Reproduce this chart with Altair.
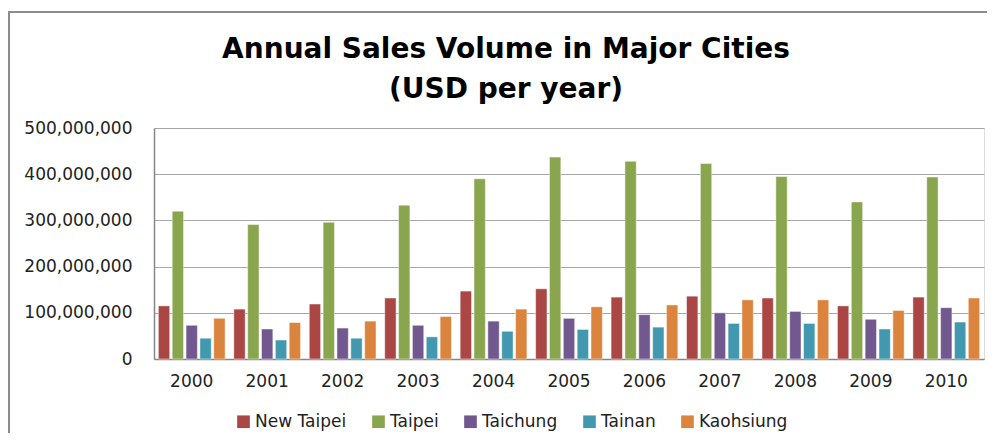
import altair as alt
import pandas as pd

years = [str(y) for y in range(2000, 2011)]
cities = ["New Taipei", "Taipei", "Taichung", "Tainan", "Kaohsiung"]
new_taipei = [115e6, 108e6, 119e6, 132e6, 147e6, 152e6, 134e6, 136e6, 132e6, 115e6, 134e6]
taipei = [320e6, 291e6, 296e6, 333e6, 390e6, 437e6, 428e6, 423e6, 395e6, 340e6, 394e6]
taichung = [73e6, 65e6, 67e6, 73e6, 82e6, 88e6, 96e6, 100e6, 103e6, 86e6, 111e6]
tainan = [45e6, 41e6, 45e6, 48e6, 60e6, 64e6, 69e6, 77e6, 77e6, 65e6, 80e6]
kaohsiung = [88e6, 79e6, 82e6, 92e6, 108e6, 113e6, 117e6, 128e6, 128e6, 105e6, 132e6]
colors = ["#AA4643", "#89A54E", "#71588F", "#4198AF", "#DB843D"]
y_ticks = [0, 100e6, 200e6, 300e6, 400e6, 500e6]

series = [new_taipei, taipei, taichung, tainan, kaohsiung]
rows = []
for city, vals in zip(cities, series):
    for yr, v in zip(years, vals):
        rows.append({"Year": yr, "City": city, "Value": v})
df = pd.DataFrame(rows)

FONT = "DejaVu Sans"

bars = alt.Chart(df).mark_bar(stroke="white", strokeOpacity=0.6, strokeWidth=0.8).encode(
    x=alt.X("Year:N", sort=years,
            scale=alt.Scale(paddingInner=0, paddingOuter=0),
            axis=alt.Axis(title=None, labelAngle=0, ticks=False, grid=False,
                          domainColor="#868686", domainWidth=1.5,
                          labelFont=FONT, labelFontSize=17, labelColor="#222222",
                          labelPadding=14)),
    xOffset=alt.XOffset("City:N", sort=cities,
                        scale=alt.Scale(paddingInner=0.18, paddingOuter=0.314)),
    y=alt.Y("Value:Q", scale=alt.Scale(domain=[0, 5e8]),
            axis=alt.Axis(title=None, values=y_ticks, format=",d", ticks=False,
                          grid=True, gridColor="#A6A6A6", gridWidth=1.2,
                          domainColor="#868686", domainWidth=1.5,
                          labelFont=FONT, labelFontSize=17, labelColor="#222222",
                          labelPadding=22)),
    color=alt.Color("City:N", sort=cities,
                    scale=alt.Scale(domain=cities, range=colors),
                    legend=alt.Legend(title=None, orient="none", legendX=81, legendY=285,
                                      direction="horizontal", columns=5,
                                      symbolType="square", symbolSize=160,
                                      symbolStrokeWidth=0,
                                      labelFont=FONT, labelFontSize=17,
                                      labelColor="#222222",
                                      columnPadding=23, labelOffset=3, padding=0)),
)

frame = alt.Chart(alt.Data(values=[{}])).mark_rect(
    filled=False, stroke="#8C8C8C", strokeWidth=2
).encode(
    x=alt.value(-145), x2=alt.value(900), y=alt.value(-116), y2=alt.value(400)
)

chart = alt.layer(frame, bars).properties(
    width=830,
    height=231,
    autosize=alt.AutoSizeParams(type="none"),
    padding={"left": 146, "top": 120, "right": 3, "bottom": 74},
    title=alt.Title(
        ["Annual Sales Volume in Major Cities", "(USD per year)"],
        font=FONT, fontSize=28, fontWeight="bold", color="#000000",
        anchor="middle", frame="group", dx=-63, offset=-93, lineHeight=40,
    ),
).configure_view(stroke=None).configure(background="white")

chart.save("out.html", embed_options={"renderer": "svg", "actions": False})
